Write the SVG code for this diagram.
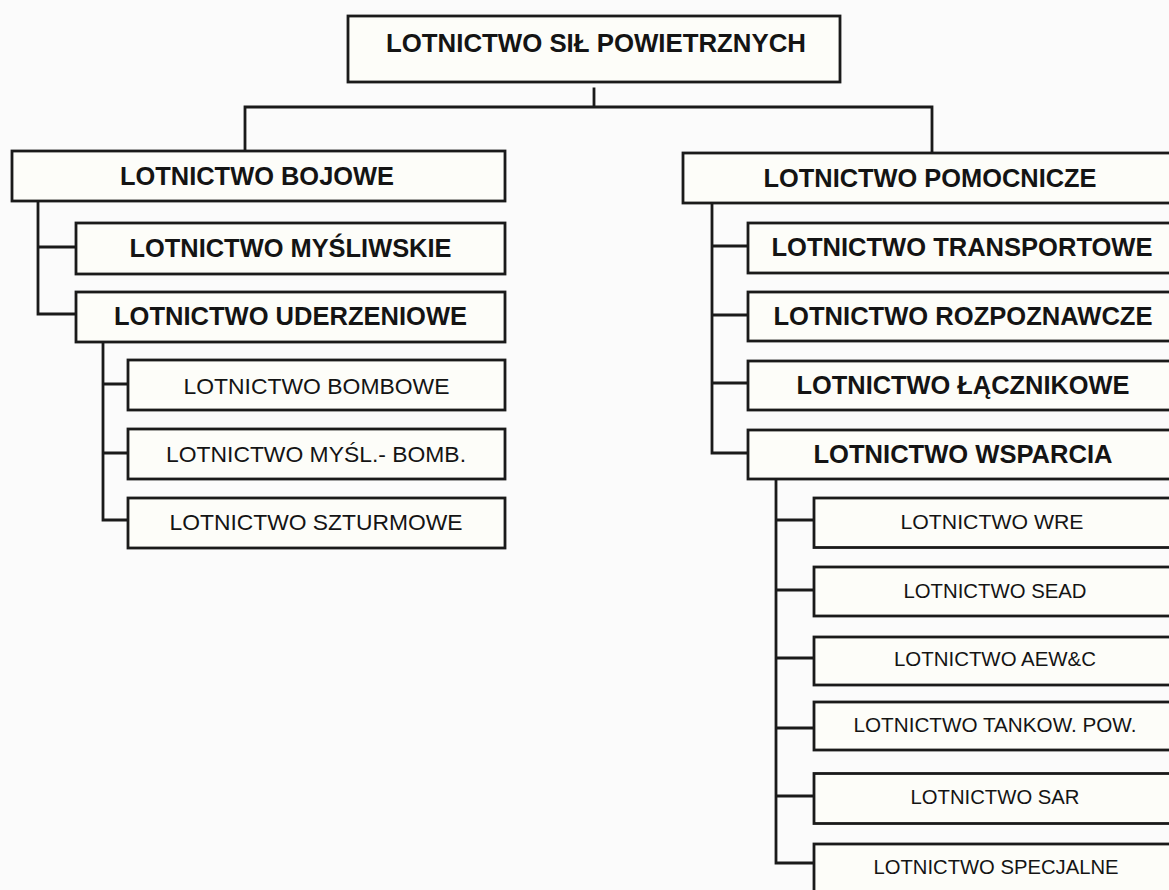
<svg xmlns="http://www.w3.org/2000/svg" width="1169" height="890" viewBox="0 0 1169 890">
  <style>
    .box { fill: #fdfdf9; stroke: #1a1a1a; stroke-width: 2.8; }
    .wire { fill: none; stroke: #1a1a1a; stroke-width: 2.8; stroke-linecap: square; }
    text { font-family: "Liberation Sans", Arial, sans-serif; fill: #141414; text-anchor: middle; }
    .b { font-weight: bold; font-size: 25px; }
    .m { font-size: 22px; }
    .s { font-size: 20px; }
  </style>
  <rect x="0" y="0" width="1169" height="890" fill="#fbfbfb"/>

  <!-- connectors -->
  <g id="connectors" class="wire">
    <path d="M594 89 V107 M245 107 H932 M245 107 V151 M932 107 V153"/>
    <path d="M38 201 V314 M38 247 H76 M38 314 H76"/>
    <path d="M103 342 V520 M103 384 H128 M103 453 H128 M103 520 H128"/>
    <path d="M712 203 V453 M712 246 H748 M712 315 H748 M712 383 H748 M712 453 H748"/>
    <path d="M776 479 V863 M776 520 H814 M776 590 H814 M776 658 H814 M776 728 H814 M776 796 H814 M776 863 H814"/>
  </g>

  <!-- root -->
  <g id="n-root">
    <rect class="box" x="348" y="16" width="492" height="66"/>
    <text class="b" x="596" y="52" textLength="420" lengthAdjust="spacingAndGlyphs">LOTNICTWO SIŁ POWIETRZNYCH</text>
  </g>

  <!-- combat branch -->
  <g id="n-bojowe">
    <rect class="box" x="12" y="151" width="493" height="50"/>
    <text class="b" x="257" y="185" textLength="274" lengthAdjust="spacingAndGlyphs">LOTNICTWO BOJOWE</text>
  </g>
  <g id="n-mysliwskie">
    <rect class="box" x="76" y="223" width="429" height="51"/>
    <text class="b" x="290.5" y="257" textLength="322" lengthAdjust="spacingAndGlyphs">LOTNICTWO MYŚLIWSKIE</text>
  </g>
  <g id="n-uderzeniowe">
    <rect class="box" x="76" y="292" width="429" height="50"/>
    <text class="b" x="290.5" y="325" textLength="353" lengthAdjust="spacingAndGlyphs">LOTNICTWO UDERZENIOWE</text>
  </g>
  <g id="n-bombowe">
    <rect class="box" x="128" y="360" width="377" height="50"/>
    <text class="m" x="316.5" y="393.5" textLength="266" lengthAdjust="spacingAndGlyphs">LOTNICTWO BOMBOWE</text>
  </g>
  <g id="n-mysl-bomb">
    <rect class="box" x="128" y="429" width="377" height="50"/>
    <text class="m" x="316" y="462" textLength="300" lengthAdjust="spacingAndGlyphs">LOTNICTWO MYŚL.- BOMB.</text>
  </g>
  <g id="n-szturmowe">
    <rect class="box" x="128" y="498" width="377" height="50"/>
    <text class="m" x="316" y="530" textLength="293" lengthAdjust="spacingAndGlyphs">LOTNICTWO SZTURMOWE</text>
  </g>

  <!-- auxiliary branch -->
  <g id="n-pomocnicze">
    <rect class="box" x="683" y="153" width="500" height="50"/>
    <text class="b" x="930" y="187" textLength="333" lengthAdjust="spacingAndGlyphs">LOTNICTWO POMOCNICZE</text>
  </g>
  <g id="n-transportowe">
    <rect class="box" x="748" y="223" width="435" height="50"/>
    <text class="b" x="962" y="256" textLength="381" lengthAdjust="spacingAndGlyphs">LOTNICTWO TRANSPORTOWE</text>
  </g>
  <g id="n-rozpoznawcze">
    <rect class="box" x="748" y="292" width="435" height="49"/>
    <text class="b" x="963" y="325" textLength="379" lengthAdjust="spacingAndGlyphs">LOTNICTWO ROZPOZNAWCZE</text>
  </g>
  <g id="n-lacznikowe">
    <rect class="box" x="748" y="361" width="435" height="49"/>
    <text class="b" x="963" y="393.5" textLength="333" lengthAdjust="spacingAndGlyphs">LOTNICTWO ŁĄCZNIKOWE</text>
  </g>
  <g id="n-wsparcia">
    <rect class="box" x="748" y="430" width="435" height="49"/>
    <text class="b" x="963" y="463" textLength="299" lengthAdjust="spacingAndGlyphs">LOTNICTWO WSPARCIA</text>
  </g>

  <!-- support sub-branch -->
  <g id="n-wre">
    <rect class="box" x="814" y="498" width="369" height="49.5"/>
    <text class="s" x="992" y="528.5" textLength="183" lengthAdjust="spacingAndGlyphs">LOTNICTWO WRE</text>
  </g>
  <g id="n-sead">
    <rect class="box" x="814" y="567" width="369" height="49"/>
    <text class="s" x="995" y="597.5" textLength="183" lengthAdjust="spacingAndGlyphs">LOTNICTWO SEAD</text>
  </g>
  <g id="n-aewc">
    <rect class="box" x="814" y="637" width="369" height="48"/>
    <text class="s" x="995" y="666" textLength="202" lengthAdjust="spacingAndGlyphs">LOTNICTWO AEW&amp;C</text>
  </g>
  <g id="n-tankow">
    <rect class="box" x="814" y="702" width="369" height="48"/>
    <text class="s" x="995" y="732" textLength="283" lengthAdjust="spacingAndGlyphs">LOTNICTWO TANKOW. POW.</text>
  </g>
  <g id="n-sar">
    <rect class="box" x="814" y="773.5" width="369" height="50"/>
    <text class="s" x="995" y="804" textLength="169" lengthAdjust="spacingAndGlyphs">LOTNICTWO SAR</text>
  </g>
  <g id="n-specjalne">
    <rect class="box" x="814" y="844" width="369" height="60"/>
    <text class="s" x="996" y="874" textLength="245" lengthAdjust="spacingAndGlyphs">LOTNICTWO SPECJALNE</text>
  </g>
</svg>
